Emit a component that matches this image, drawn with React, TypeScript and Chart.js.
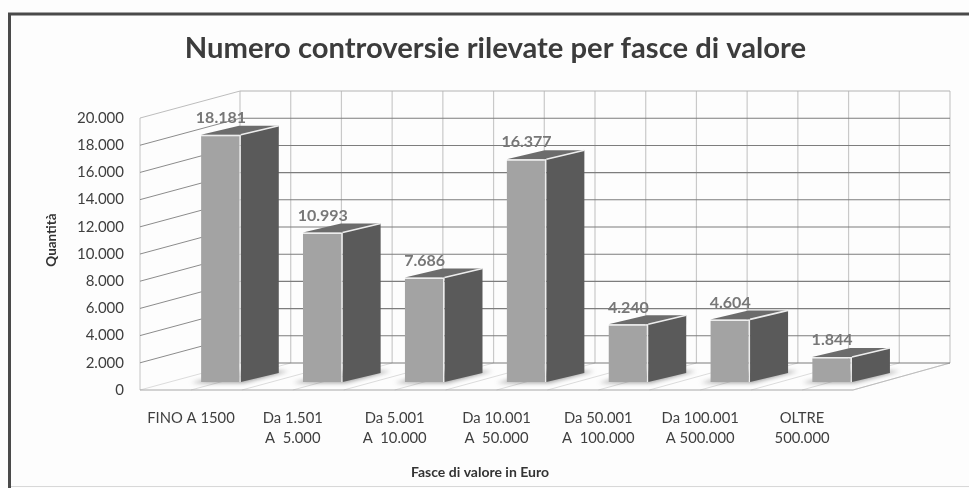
import React, { useEffect, useRef } from "react";
import { Chart, registerables } from "chart.js";

Chart.register(...registerables);

const categories: string[][] = [
  ["FINO A 1500"],
  ["Da 1.501", "A  5.000"],
  ["Da 5.001", "A  10.000"],
  ["Da 10.001", "A  50.000"],
  ["Da 50.001", "A  100.000"],
  ["Da 100.001", "A 500.000"],
  ["OLTRE", "500.000"],
];
const quantities = [18181, 10993, 7686, 16377, 4240, 4604, 1844];
const chartTitle = "Numero controversie rilevate per fasce di valore";
const yAxisTitle = "Quantità";
const xAxisTitle = "Fasce di valore in Euro";

const FONT = "Lato, Carlito, 'Open Sans', sans-serif";
const fmt = (v: number) => String(v).replace(/\B(?=(\d{3})+$)/g, ".");

// Projection of the 3D box onto the front plane of the axes
const WALL_DX = 100;
const WALL_DY = -27;
const BAR_OFFSET = { x: 30, y: -8 };
const BAR_DEPTH = { x: 38, y: -9 };

const scene = {
  id: "scene3d",
  beforeDraw(chart: any) {
    const { ctx, width, height } = chart;
    ctx.save();
    ctx.fillStyle = "#fdfdfd";
    ctx.fillRect(0, 0, width, height);
    ctx.strokeStyle = "#4a4a4a";
    ctx.lineWidth = 3;
    ctx.beginPath();
    ctx.moveTo(9.5, height);
    ctx.lineTo(9.5, 14);
    ctx.lineTo(width, 14);
    ctx.stroke();
    ctx.strokeStyle = "#d8d8d8";
    ctx.lineWidth = 1;
    ctx.beginPath();
    ctx.moveTo(11, height - 1.5);
    ctx.lineTo(width, height - 1.5);
    ctx.stroke();
    ctx.restore();
  },
  beforeDatasetsDraw(chart: any) {
    const { ctx } = chart;
    const xs = chart.scales.x;
    const ys = chart.scales.y;
    const L = xs.left;
    const R = xs.right;
    const B = ys.bottom;
    const backR = R + WALL_DX - 3;
    const line = (x0: number, y0: number, x1: number, y1: number, c: string, w = 1) => {
      ctx.strokeStyle = c;
      ctx.lineWidth = w;
      ctx.beginPath();
      ctx.moveTo(x0, y0);
      ctx.lineTo(x1, y1);
      ctx.stroke();
    };
    ctx.save();
    const n = categories.length * 2;
    // floor and back wall verticals
    for (let k = 0; k <= n; k++) {
      const fx = L + ((R - L) * k) / n;
      const bx = L + WALL_DX + ((backR - L - WALL_DX) * k) / n;
      line(fx, B, bx, B + WALL_DY, "#dcdcdc");
      line(bx, ys.top + WALL_DY, bx, B + WALL_DY, "#c9c9c9", 1.2);
    }
    // left wall
    line(L, ys.top, L, B, "#c4c4c4");
    line(L, B, R, B, "#a8a8a8", 1.2);
    line(R, B, backR, B + WALL_DY, "#bdbdbd");
    // value gridlines: left wall and back wall
    ys.ticks.forEach((t: any) => {
      const y = ys.getPixelForValue(t.value);
      if (t.value > 0) line(L, y, L + WALL_DX, y + WALL_DY, t.value === 20000 ? "#bdbdbd" : "#8c8c8c");
      line(L + WALL_DX, y + WALL_DY, backR, y + WALL_DY, t.value === 20000 ? "#b4b4b4" : "#7d7d7d", 1.1);
    });
    ctx.translate(BAR_OFFSET.x, BAR_OFFSET.y);
    // bar shadows, sides and tops, behind the library's own front faces
    const bars = chart.getDatasetMeta(0).data;
    bars.forEach((b: any) => {
      const x0 = b.x - b.width / 2;
      const x1 = b.x + b.width / 2;
      ctx.save();
      ctx.fillStyle = "rgba(90,90,90,0.55)";
      ctx.filter = "blur(2px)";
      ctx.beginPath();
      ctx.moveTo(x0 - 10, b.base + 1);
      ctx.lineTo(x1 + 3, b.base + 1);
      ctx.lineTo(x1 + BAR_DEPTH.x + 10, b.base + BAR_DEPTH.y - 2);
      ctx.lineTo(x0 + BAR_DEPTH.x, b.base + BAR_DEPTH.y - 2);
      ctx.closePath();
      ctx.fill();
      ctx.restore();
      ctx.fillStyle = "#5a5a5a";
      ctx.beginPath();
      ctx.moveTo(x1, b.y);
      ctx.lineTo(x1 + BAR_DEPTH.x, b.y + BAR_DEPTH.y);
      ctx.lineTo(x1 + BAR_DEPTH.x, b.base + BAR_DEPTH.y);
      ctx.lineTo(x1, b.base);
      ctx.closePath();
      ctx.fill();
      ctx.fillStyle = "#6c6c6c";
      ctx.beginPath();
      ctx.moveTo(x0, b.y);
      ctx.lineTo(x1, b.y);
      ctx.lineTo(x1 + BAR_DEPTH.x, b.y + BAR_DEPTH.y);
      ctx.lineTo(x0 + BAR_DEPTH.x, b.y + BAR_DEPTH.y);
      ctx.closePath();
      ctx.fill();
    });
    // translation stays active while the library draws the front faces
  },
  afterDatasetsDraw(chart: any) {
    const { ctx } = chart;
    const bars = chart.getDatasetMeta(0).data;
    ctx.strokeStyle = "#ededed";
    ctx.lineWidth = 1.6;
    bars.forEach((b: any) => {
      const x1 = b.x + b.width / 2;
      ctx.beginPath();
      ctx.moveTo(x1, b.y);
      ctx.lineTo(x1 + BAR_DEPTH.x, b.y + BAR_DEPTH.y);
      ctx.stroke();
    });
    ctx.fillStyle = "#777777";
    ctx.font = `bold 16px ${FONT}`;
    ctx.textAlign = "center";
    ctx.textBaseline = "middle";
    bars.forEach((b: any, i: number) => {
      ctx.fillText(fmt(quantities[i]), b.x, b.y - 17);
    });
    ctx.restore();
  },
  afterDraw(chart: any) {
    const { ctx } = chart;
    ctx.save();
    ctx.fillStyle = "#333333";
    ctx.textAlign = "center";
    ctx.textBaseline = "middle";
    ctx.font = `bold 14px ${FONT}`;
    ctx.fillText(xAxisTitle, 480, 472);
    ctx.translate(52, 240);
    ctx.rotate(-Math.PI / 2);
    ctx.font = `bold 13.5px ${FONT}`;
    ctx.fillText(yAxisTitle, 0, 0);
    ctx.restore();
  },
};

export default function App() {
  const ref = useRef<HTMLCanvasElement>(null);
  useEffect(() => {
    document.body.style.margin = "0";
    const chart = new Chart(ref.current!, {
      type: "bar",
      plugins: [scene],
      data: {
        labels: categories,
        datasets: [
          {
            label: yAxisTitle,
            data: quantities,
            backgroundColor: "#a3a3a3",
            borderColor: "#ededed",
            borderWidth: { top: 1.5, right: 1.5, left: 0, bottom: 0 },
            barPercentage: 0.39,
            categoryPercentage: 1,
            clip: false,
          } as any,
        ],
      },
      options: {
        responsive: false,
        animation: false,
        layout: { padding: { left: 22, right: 0, top: 0, bottom: 0 } },
        plugins: {
          legend: { display: false },
          tooltip: { enabled: false },
          title: {
            display: true,
            text: chartTitle,
            color: "#3c3c3c",
            font: { family: FONT, size: 29.2, weight: "bold" },
            padding: { top: 31, bottom: 52 },
          },
        },
        scales: {
          x: {
            grid: { display: false, drawTicks: false },
            border: { display: false },
            afterFit: (s: any) => { s.height = 98; },
            ticks: {
              color: "#3f3f3f",
              font: { family: FONT, size: 14.8, lineHeight: 1.38 },
              padding: 18,
              maxRotation: 0,
              autoSkip: false,
            },
          },
          y: {
            min: 0,
            max: 20000,
            afterFit: (s: any) => { s.width = 118; },
            grid: { display: false, drawTicks: false },
            border: { display: false },
            ticks: {
              stepSize: 2000,
              color: "#3f3f3f",
              font: { family: FONT, size: 15 },
              padding: 16,
              callback: (v: any) => fmt(Number(v)),
            },
          },
          wallRoom: {
            position: "right",
            grid: { display: false, drawTicks: false },
            border: { display: false },
            ticks: { display: false },
            afterFit: (s: any) => { s.width = 116; },
          },
        },
      },
    } as any);
    return () => chart.destroy();
  }, []);
  return (
    <div style={{ width: 969, height: 488 }}>
      <canvas ref={ref} width={969} height={488} style={{ display: "block", filter: "blur(0.7px)" }} />
    </div>
  );
}
